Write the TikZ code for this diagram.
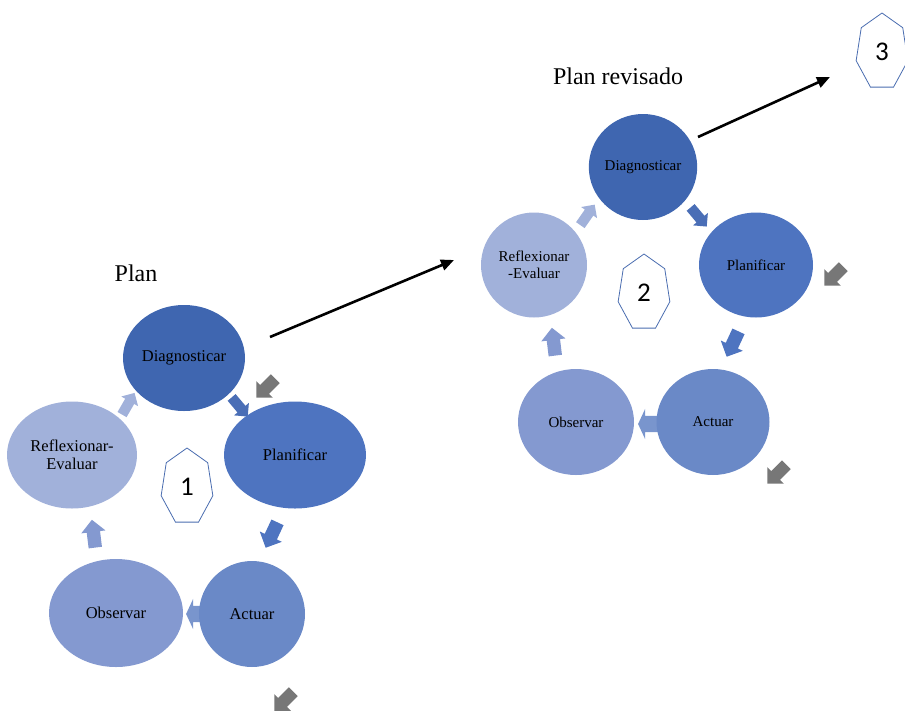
\documentclass[tikz,border=0pt]{standalone}
\usepackage{fontspec}
\setmainfont{Liberation Serif}
\newfontfamily\numfont{Carlito}
\usetikzlibrary{arrows.meta,positioning,shapes.geometric,shapes.arrows}
\definecolor{diagblue}{HTML}{3F66B0}
\definecolor{planblue}{HTML}{4E74C0}
\definecolor{actblue}{HTML}{6A89C7}
\definecolor{obsblue}{HTML}{8499D0}
\definecolor{refblue}{HTML}{A1B1DA}
\definecolor{heptline}{HTML}{4A6DB0}
\definecolor{arrgray}{HTML}{777777}

\begin{document}
\begin{tikzpicture}[x=1pt,y=-1pt,
  stage/.style={ellipse,inner sep=0pt,align=center,text=black,
                font=\fontsize{16.5}{18}\selectfont},
  stageB/.style={stage,font=\fontsize{15}{17}\selectfont},
  blk/.style={single arrow,draw=none,inner xsep=0pt,inner ysep=6.5pt,
              single arrow head extend=5.5pt,minimum height=28pt},
  smallblk/.style={blk,inner ysep=5pt,single arrow head extend=4.5pt,minimum height=25pt},
  thinblk/.style={blk,inner ysep=8pt,single arrow head extend=7pt,
                  single arrow tip angle=130,minimum height=20pt},
  gblk/.style={blk,fill=arrgray,inner ysep=6pt,minimum height=27pt},
  hept/.style={regular polygon,regular polygon sides=7,draw=heptline,line width=0.8pt,
               fill=white,inner sep=0pt,minimum size=78pt,xscale=0.68},
  numtxt/.style={font=\numfont\fontsize{27}{27}\selectfont,inner sep=0pt},
  link/.style={-{Triangle[length=13pt,width=11pt]},line width=2.6pt}]
\useasboundingbox (0,0) rectangle (905,713);
% titles
\node[font=\fontsize{24}{26}\selectfont] (tplan) at (136,273) {Plan};
\node[font=\fontsize{24}{26}\selectfont] (trev) at (618,76) {Plan revisado};
% block arrows, first cycle
\node[smallblk,fill=planblue!95!black,rotate=-50] (a1) at (238,405) {};
\node[gblk,rotate=-135] (g1) at (268,386) {};
\node[blk,fill=planblue,rotate=-115] (a2) at (273,532) {};
\node[thinblk,fill=actblue!90!white,rotate=180] (a3) at (198,614) {};
\node[blk,fill=obsblue,rotate=97] (a4) at (94,537) {};
\node[smallblk,fill=refblue,rotate=60] (a5) at (127,406) {};
\node[gblk,rotate=-135] (g2) at (286,699) {};
% block arrows, second cycle
\node[smallblk,fill=planblue!95!black,rotate=-50] (b1) at (697,215) {};
\node[gblk,rotate=-135] (g3) at (836,274) {};
\node[blk,fill=planblue,rotate=-115] (b2) at (734,341) {};
\node[thinblk,fill=actblue!90!white,rotate=180] (b3) at (650,424) {};
\node[blk,fill=obsblue,rotate=97] (b4) at (554,345) {};
\node[smallblk,fill=refblue,rotate=55] (b5) at (586,217) {};
\node[gblk,rotate=-135] (g4) at (779,472) {};
% first cycle
\node[stage,fill=diagblue,minimum width=122pt,minimum height=106pt] (diagA) at (184,358) {Diagnosticar};
\node[stage,fill=planblue,minimum width=142pt,minimum height=107pt] (planA) at (295,455) {Planificar};
\node[stage,fill=actblue,minimum width=106pt,minimum height=106pt] (actA) at (252,614) {Actuar};
\node[stage,fill=obsblue,minimum width=134pt,minimum height=108pt] (obsA) at (116,613) {Observar};
\node[stage,fill=refblue,minimum width=130pt,minimum height=107pt] (refA) at (72,455) {Reflexionar-\\Evaluar};
\node[hept] (hA) at (187,487) {};
\node[numtxt] at (hA) {1};
% second cycle
\node[stageB,fill=diagblue,minimum width=108pt,minimum height=106pt] (diagB) at (643,167) {Diagnosticar};
\node[stageB,fill=planblue,minimum width=114pt,minimum height=105pt] (planB) at (756,265) {Planificar};
\node[stageB,fill=actblue,minimum width=113pt,minimum height=106pt] (actB) at (713,422) {Actuar};
\node[stageB,fill=obsblue,minimum width=116pt,minimum height=106pt] (obsB) at (576,422) {Observar};
\node[stageB,fill=refblue,minimum width=106pt,minimum height=105pt] (refB) at (534,265) {Reflexionar\\-Evaluar};
\node[hept] (hB) at (644,293) {};
\node[numtxt] at (hB) {2};
\node[hept] (hC) at (882,52) {};
\node[numtxt] at (hC) {3};
% links between plans
\coordinate (goA) at (270,337);
\coordinate (toB) at (454,260);
\coordinate (goB) at (698,137);
\coordinate (toC) at (830,77);
\draw[link] (goA) -- (toB);
\draw[link] (goB) -- (toC);
\end{tikzpicture}
\end{document}
